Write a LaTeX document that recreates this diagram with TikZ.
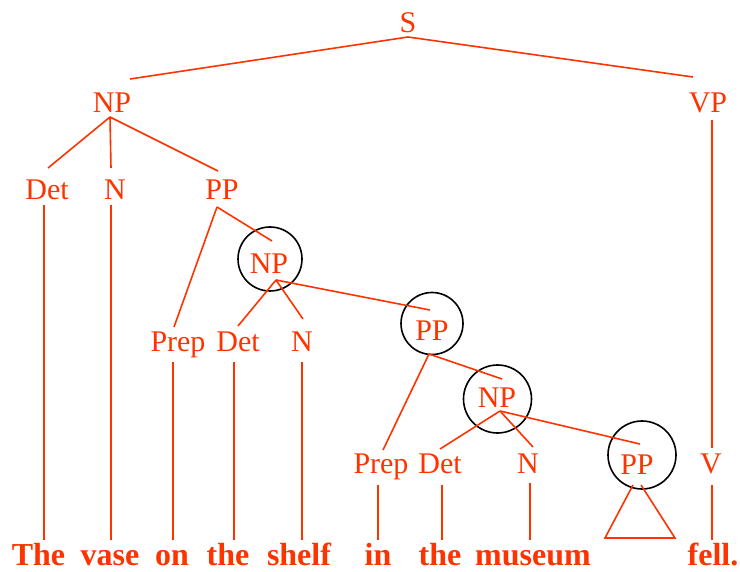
\documentclass[tikz,border=0pt]{standalone}
\usepackage{fontspec}
\setmainfont{Liberation Serif}
\definecolor{treered}{RGB}{255,51,0}
\begin{document}
\begin{tikzpicture}[x=1pt,y=-1pt,
  lbl/.style={anchor=base,inner sep=0pt,text=treered,font=\fontsize{30}{36}\selectfont},
  word/.style={anchor=base,inner sep=0pt,text=treered,font=\fontsize{32}{38}\selectfont\bfseries},
  branch/.style={draw=treered,line width=1.6pt},
  ring/.style={draw=black,line width=1.6pt}]
\useasboundingbox (0,0) rectangle (740,572);

% category labels
\node[lbl] (S)     at (408,33)  {S};
\node[lbl] (NPa)   at (112,113) {NP};
\node[lbl] (VP)    at (708,113) {VP};
\node[lbl] (Deta)  at (47,200)  {Det};
\node[lbl] (Na)    at (115,200) {N};
\node[lbl] (PPa)   at (222,200) {PP};
\node[lbl] (NPb)   at (269,274) {NP};
\node[lbl] (Prepb) at (178,352) {Prep};
\node[lbl] (Detb)  at (238,352) {Det};
\node[lbl] (Nb)    at (302,352) {N};
\node[lbl] (PPb)   at (432,341) {PP};
\node[lbl] (NPc)   at (497,408) {NP};
\node[lbl] (Prepc) at (381,473) {Prep};
\node[lbl] (Detc)  at (440,473) {Det};
\node[lbl] (Nc)    at (528,473) {N};
\node[lbl] (PPc)   at (637,475) {PP};
\node[lbl] (V)     at (711,473) {V};

% the words of the sentence
\node[word] (w1) at (38.5,565) {The};
\node[word] (w2) at (110,565)  {vase};
\node[word] (w3) at (172,565)  {on};
\node[word] (w4) at (228,565)  {the};
\node[word] (w5) at (299,565)  {shelf};
\node[word] (w6) at (378,565)  {in};
\node[word] (w7) at (440,565)  {the};
\node[word] (w8) at (533,565)  {museum};
\node[word] (w9) at (713,565)  {fell.};

% circled constituents
\node[ring,circle,minimum size=64pt,inner sep=0pt] (cNPb) at (270,259)   {};
\node[ring,circle,minimum size=62pt,inner sep=0pt] (cPPb) at (432,323.5) {};
\node[ring,circle,minimum size=68pt,inner sep=0pt] (cNPc) at (497.5,399) {};
\node[ring,circle,minimum size=68pt,inner sep=0pt] (cPPc) at (642,455)   {};

% attachment points of the branches
\coordinate (S-dn)     at (408,37);
\coordinate (NPa-up)   at (130,79);
\coordinate (VP-up)    at (693,77);
\coordinate (NPa-dn)   at (110,117);
\coordinate (Deta-up)  at (48,168);
\coordinate (Na-up)    at (111,168);
\coordinate (PPa-up)   at (218,171);
\coordinate (VP-dn)    at (712,120);
\coordinate (V-up)     at (712,448);
\coordinate (Deta-dn)  at (44,205);
\coordinate (w1-up)    at (44,540);
\coordinate (Na-dn)    at (111,205);
\coordinate (w2-up)    at (111,540);
\coordinate (PPa-dn)   at (217,207);
\coordinate (Prepb-up) at (174,327);
\coordinate (NPb-up)   at (272,241);
\coordinate (Prepb-dn) at (173,362);
\coordinate (w3-up)    at (173,540);
\coordinate (Detb-dn)  at (234,362);
\coordinate (w4-up)    at (234,540);
\coordinate (Nb-dn)    at (302,362);
\coordinate (w5-up)    at (302,540);
\coordinate (NPb-dn)   at (276,280);
\coordinate (Detb-up)  at (238,326);
\coordinate (Nb-up)    at (303,319);
\coordinate (PPb-up)   at (430,310);
\coordinate (PPb-dn)   at (429,354);
\coordinate (Prepc-up) at (383,450);
\coordinate (NPc-up)   at (502,379);
\coordinate (NPc-dn)   at (500,411);
\coordinate (Detc-up)  at (440,449);
\coordinate (Nc-up)    at (533,447);
\coordinate (PPc-up)   at (640,444);
\coordinate (Prepc-dn) at (378,485);
\coordinate (w6-up)    at (378,540);
\coordinate (Detc-dn)  at (442,485);
\coordinate (w7-up)    at (442,540);
\coordinate (Nc-dn)    at (530,483);
\coordinate (w8-up)    at (530,540);
\coordinate (V-dn)     at (712,485);
\coordinate (w9-up)    at (712,540);
\coordinate (tri-a)    at (633,485);
\coordinate (tri-b)    at (605,538);
\coordinate (tri-c)    at (675,538);
\coordinate (tri-d)    at (641,485);

% branches
\draw[branch] (S-dn) -- (NPa-up);
\draw[branch] (S-dn) -- (VP-up);
\draw[branch] (NPa-dn) -- (Deta-up);
\draw[branch] (NPa-dn) -- (Na-up);
\draw[branch] (NPa-dn) -- (PPa-up);
\draw[branch] (VP-dn) -- (V-up);
\draw[branch] (Deta-dn) -- (w1-up);
\draw[branch] (Na-dn) -- (w2-up);
\draw[branch] (PPa-dn) -- (Prepb-up);
\draw[branch] (PPa-dn) -- (NPb-up);
\draw[branch] (Prepb-dn) -- (w3-up);
\draw[branch] (Detb-dn) -- (w4-up);
\draw[branch] (Nb-dn) -- (w5-up);
\draw[branch] (NPb-dn) -- (Detb-up);
\draw[branch] (NPb-dn) -- (Nb-up);
\draw[branch] (NPb-dn) -- (PPb-up);
\draw[branch] (PPb-dn) -- (Prepc-up);
\draw[branch] (PPb-dn) -- (NPc-up);
\draw[branch] (NPc-dn) -- (Detc-up);
\draw[branch] (NPc-dn) -- (Nc-up);
\draw[branch] (NPc-dn) -- (PPc-up);
\draw[branch] (Prepc-dn) -- (w6-up);
\draw[branch] (Detc-dn) -- (w7-up);
\draw[branch] (Nc-dn) -- (w8-up);
\draw[branch] (V-dn) -- (w9-up);
% unexpanded PP shown as a triangle
\draw[branch] (tri-a) -- (tri-b) -- (tri-c) -- (tri-d);
\end{tikzpicture}
\end{document}
